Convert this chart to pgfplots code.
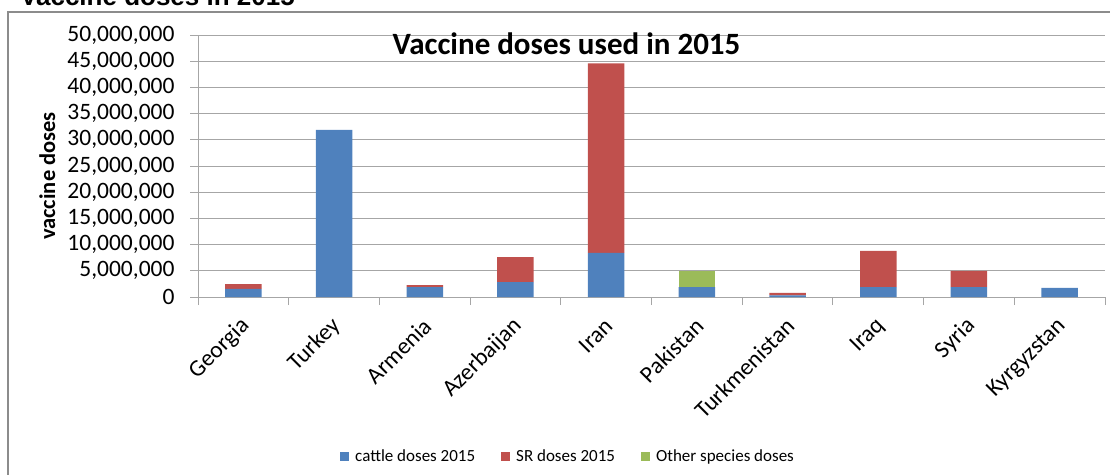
\documentclass[border=0pt]{standalone}
\usepackage{pgfplots}
\pgfplotsset{compat=1.18}
\usepackage{fontspec}
\setmainfont{Carlito}
\newfontfamily\arialfont{Liberation Sans}
\definecolor{cblue}{HTML}{4F81BD}
\definecolor{cred}{HTML}{C0504D}
\definecolor{cgreen}{HTML}{9BBB59}
\definecolor{gridgray}{HTML}{A6A6A6}
\definecolor{framegray}{HTML}{8C8C8C}
\begin{document}
\begin{tikzpicture}[x=1pt,y=1pt]
\draw[framegray, line width=1.3pt] (8,-20) rectangle (1130,462);
\node[anchor=base west, inner sep=0pt, font=\arialfont\bfseries\fontsize{26}{30}\selectfont] at (20,468.3) {Vaccine doses in 2015};
\begin{axis}[
  at={(198pt,177pt)}, anchor=south west,
  scale only axis, width=907pt, height=262pt,
  xmin=-0.5, xmax=9.5, ymin=0, ymax=50000000,
  ybar stacked, bar width=36.5pt,
  axis x line*=bottom, axis y line*=left,
  axis line style={gridgray, line width=1pt},
  ymajorgrids, grid style={gridgray, line width=1pt},
  ytick={0,5000000,10000000,15000000,20000000,25000000,30000000,35000000,40000000,45000000,50000000},
  scaled y ticks=false,
  /pgf/number format/fixed,
  /pgf/number format/1000 sep={,},
  /pgf/number format/assume math mode=true,
  yticklabel style={font=\fontsize{23.5}{28}\selectfont, xshift=-12pt},
  tick style={gridgray, line width=1pt},
  tick align=outside, major tick length=8pt,
  xtick={-0.5,0.5,...,9.5}, xticklabels={},
  extra x ticks={0,1,2,3,4,5,6,7,8,9},
  extra x tick labels={Georgia,Turkey,Armenia,Azerbaijan,Iran,Pakistan,Turkmenistan,Iraq,Syria,Kyrgyzstan},
  extra x tick style={major tick length=0pt, grid=none,
     xticklabel style={rotate=45, anchor=east, font=\fontsize{23.5}{28}\selectfont, xshift=-12.7pt, yshift=-19.8pt}},
  legend columns=3,
  legend style={at={(0.408,-0.607)}, anchor=center, draw=none, fill=none,
     font=\fontsize{17}{20}\selectfont,
     /tikz/every even column/.append style={column sep=24pt}},
  legend image code/.code={\fill[#1] (0pt,-4.5pt) rectangle (9pt,4.5pt); \path (13pt,0pt);},
]
\addplot[fill=cblue, draw=none] coordinates {(0,1550000) (1,31900000) (2,1900000) (3,2850000) (4,8400000) (5,1900000) (6,300000) (7,1900000) (8,1900000) (9,1750000)};
\addplot[fill=cred, draw=none] coordinates {(0,900000) (1,0) (2,350000) (3,4750000) (4,36200000) (5,0) (6,500000) (7,6900000) (8,3100000) (9,0)};
\addplot[fill=cgreen, draw=none] coordinates {(0,0) (1,0) (2,0) (3,0) (4,0) (5,3100000) (6,0) (7,0) (8,0) (9,0)};
\legend{cattle doses 2015, SR doses 2015, Other species doses}
\end{axis}
\node[anchor=base, font=\bfseries\fontsize{31}{37}\selectfont] at (566.5,419.7) {Vaccine doses used in 2015};
\node[rotate=90, anchor=base, font=\bfseries\fontsize{22.5}{27}\selectfont] at (55,298) {vaccine doses};
\pgfresetboundingbox
\useasboundingbox (0,0) rectangle (1110,474);
\end{tikzpicture}
\end{document}
